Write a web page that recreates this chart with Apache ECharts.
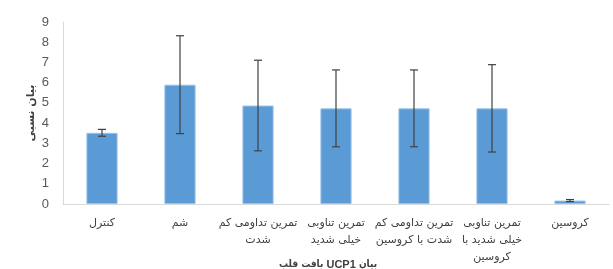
<!DOCTYPE html>
<html><head><meta charset="utf-8">
<script src="https://cdn.jsdelivr.net/npm/echarts@6/dist/echarts.min.js"></script>
<style>html,body{margin:0;padding:0;background:#fff}#c{width:613px;height:269px}</style>
</head><body><div id="c"></div>
<script>
const categories = ['کنترل', 'شم', 'تمرین تداومی کم\nشدت', 'تمرین تناوبی\nخیلی شدید', 'تمرین تداومی کم\nشدت با کروسین', 'تمرین تناوبی\nخیلی شدید با\nکروسین', 'کروسین'];
const values = [3.52, 5.9, 4.87, 4.73, 4.73, 4.73, 0.17];
const errors = [0.17, 2.42, 2.24, 1.9, 1.9, 2.16, 0.05];
const yTicks = [0, 1, 2, 3, 4, 5, 6, 7, 8, 9];
const xTitleWords = ['بیان', 'UCP1', 'بافت', 'قلب'];
const yTitle = 'بیان نسبی';

// right-to-left word order: first word on the right
const xTitleRich = xTitleWords.slice().reverse().map(w => /[A-Za-z0-9]/.test(w) ? '{l|' + w + '}' : '{a|' + w + '}').join(' ');

const chart = echarts.init(document.getElementById('c'));
chart.setOption({
  animation: false,
  grid: { left: 63, right: 4, top: 22, bottom: 65, outerBoundsMode: 'none', containLabel: false },
  xAxis: {
    type: 'category', data: categories,
    axisLine: { lineStyle: { color: '#d9d9d9', width: 1 } },
    axisTick: { show: false },
    axisLabel: { interval: 0, color: '#404040', fontSize: 11, fontFamily: 'DejaVu Sans', lineHeight: 17, margin: 11 },
    name: xTitleRich, nameLocation: 'middle', nameGap: 55, nameMoveOverlap: false,
    nameTextStyle: {
      fontWeight: 'bold', fontSize: 10, color: '#404040', fontFamily: 'DejaVu Sans Condensed',
      padding: [0, 16, 0, 0],
      rich: {
        a: { fontWeight: 'bold', fontSize: 10, color: '#404040', fontFamily: 'DejaVu Sans Condensed' },
        l: { fontWeight: 'bold', fontSize: 11, color: '#404040', fontFamily: 'Liberation Sans' }
      }
    }
  },
  yAxis: {
    type: 'value', min: yTicks[0], max: yTicks[yTicks.length - 1], interval: 1,
    axisLine: { show: true, lineStyle: { color: '#d9d9d9' } },
    axisTick: { show: false },
    splitLine: { show: false },
    axisLabel: { color: '#595959', fontSize: 13, fontFamily: 'Liberation Sans', margin: 14 },
    name: yTitle, nameLocation: 'middle', nameGap: 26, nameRotate: 90, nameMoveOverlap: false,
    nameTextStyle: { fontWeight: 'bold', fontSize: 11, color: '#404040', fontFamily: 'DejaVu Sans' }
  },
  series: [
    { type: 'bar', data: values, barWidth: '40%', itemStyle: { color: '#5b9bd5', borderColor: '#9dc3e6', borderWidth: 1 } },
    {
      type: 'custom', z: 10,
      data: values.map((v, i) => [i, v - errors[i], v + errors[i]]),
      renderItem: function (params, api) {
        const lo = api.coord([api.value(0), api.value(1)]);
        const hi = api.coord([api.value(0), api.value(2)]);
        const w = 4;
        const st = { stroke: '#404040', lineWidth: 1.2 };
        return { type: 'group', children: [
          { type: 'line', shape: { x1: hi[0], y1: hi[1], x2: lo[0], y2: lo[1] }, style: st },
          { type: 'line', shape: { x1: hi[0] - w, y1: hi[1], x2: hi[0] + w, y2: hi[1] }, style: st },
          { type: 'line', shape: { x1: lo[0] - w, y1: lo[1], x2: lo[0] + w, y2: lo[1] }, style: st }
        ]};
      }
    }
  ]
});
</script></body></html>
